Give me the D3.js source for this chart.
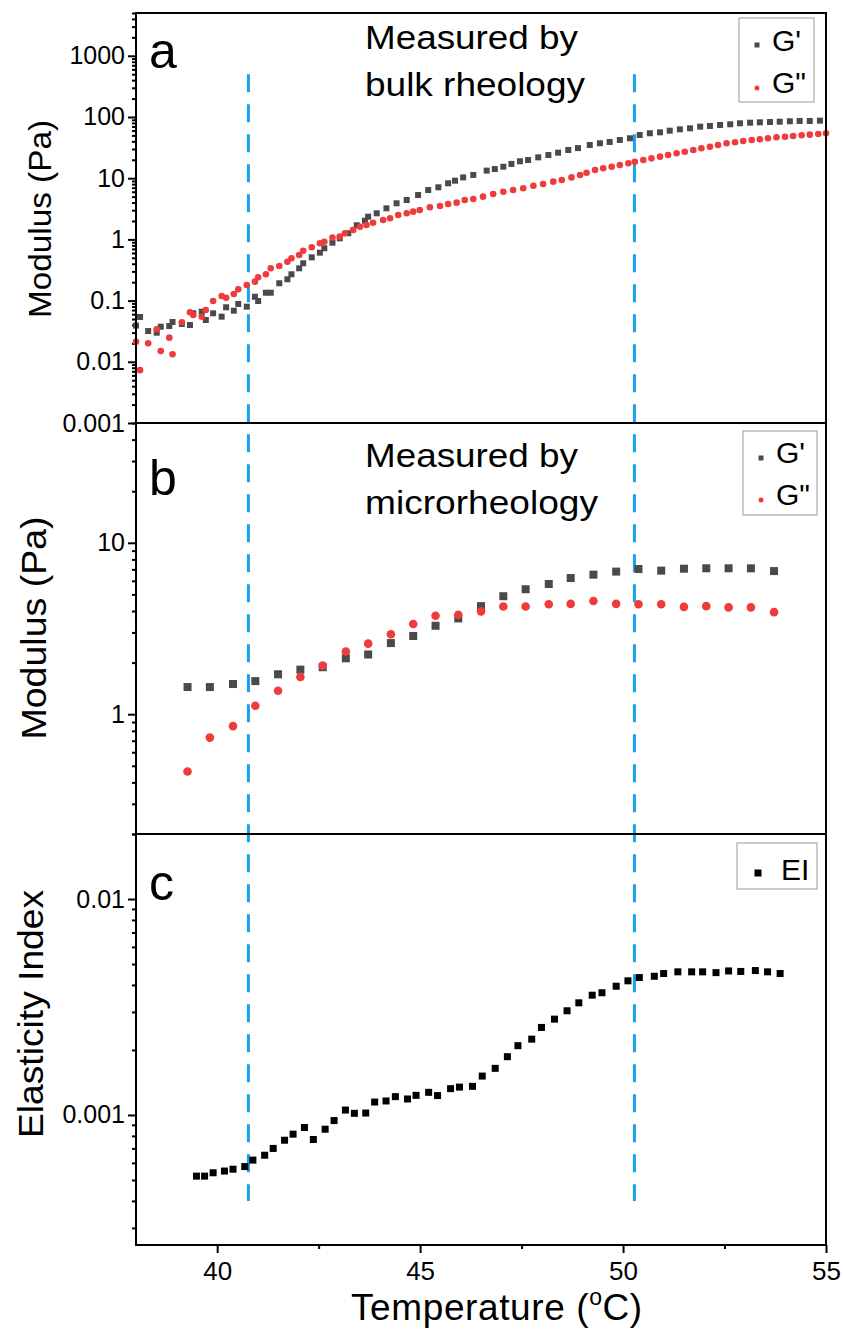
<!DOCTYPE html>
<html><head><meta charset="utf-8">
<script src="https://cdnjs.cloudflare.com/ajax/libs/d3/7.8.5/d3.min.js"></script>
<style>body{margin:0;background:#fff} text{font-family:"Liberation Sans",Arial,sans-serif;fill:#000}</style>
</head><body><svg id="chart" width="844" height="1333"></svg>
<script>
// ---------- DATA ----------
// Panel a: bulk rheology
const bulkGpTemp = [38.00,38.10,38.30,38.51,38.61,38.82,38.90,39.13,39.33,39.41,39.62,39.72,39.90,40.11,40.22,40.41,40.52,40.73,40.93,41.01,41.20,41.32,41.53,41.73,41.83,42.02,42.12,42.33,42.53,42.64,42.84,43.02,43.23,43.44,43.64,43.72,43.93,44.17,44.42,44.67,44.95,45.20,45.45,45.69,45.86,46.06,46.31,46.64,46.84,47.05,47.25,47.46,47.66,47.91,48.16,48.40,48.65,48.89,49.18,49.43,49.67,49.92,50.17,50.41,50.66,50.91,51.15,51.40,51.65,51.90,52.14,52.39,52.64,52.88,53.13,53.37,53.62,53.86,54.11,54.35,54.60,54.85];
const bulkGp = [0.039,0.054,0.0318,0.0299,0.0374,0.0384,0.0447,0.0415,0.0399,0.062,0.0659,0.0482,0.062,0.0546,0.0778,0.0684,0.088,0.0796,0.1156,0.0984,0.1345,0.1345,0.192,0.223,0.269,0.337,0.407,0.509,0.607,0.716,0.883,1.04,1.26,1.70,2.02,2.35,2.67,3.22,3.89,4.40,5.31,6.41,7.10,8.26,9.10,10.3,11.3,13.3,14.1,15.4,17.1,18.9,19.8,21.9,23.9,26.1,28.9,31.0,34.9,37.2,39.1,42.1,44.9,50.8,54.2,56.2,59.7,62.9,65.3,69.5,71.3,74.0,76.0,78.9,80.7,81.8,82.8,83.7,85.1,86.1,86.1,87.1];
const bulkGppTemp = [38.00,38.10,38.30,38.51,38.61,38.82,38.90,39.13,39.33,39.41,39.62,39.72,39.90,40.11,40.22,40.41,40.52,40.73,40.93,41.01,41.20,41.32,41.53,41.73,41.83,42.02,42.12,42.33,42.53,42.64,42.84,43.02,43.15,43.35,43.52,43.68,43.84,44.09,44.26,44.46,44.67,44.83,44.99,45.24,45.49,45.69,45.90,46.10,46.31,46.55,46.80,47.05,47.29,47.54,47.79,48.03,48.28,48.49,48.73,48.94,49.10,49.31,49.51,49.72,49.92,50.13,50.29,50.50,50.70,50.91,51.11,51.32,51.52,51.73,51.93,52.14,52.34,52.55,52.76,52.96,53.17,53.37,53.57,53.78,53.99,54.19,54.40,54.60,54.81,55.00];
const bulkGpp = [0.0213,0.0073,0.0200,0.0340,0.0150,0.0248,0.0133,0.0442,0.0644,0.0582,0.0546,0.0701,0.0984,0.119,0.111,0.128,0.153,0.180,0.204,0.240,0.269,0.337,0.367,0.432,0.491,0.556,0.653,0.742,0.863,0.917,1.07,1.11,1.26,1.43,1.61,1.72,1.87,2.07,2.21,2.50,2.67,2.84,3.02,3.35,3.52,3.79,3.98,4.40,4.57,4.99,5.52,6.02,6.41,6.84,7.54,8.04,8.77,9.35,10.3,11.3,12.3,13.6,14.5,15.4,16.4,17.5,18.6,19.8,21.1,22.5,23.9,25.5,27.1,28.9,30.8,32.7,34.9,37.2,38.6,40.6,42.1,43.2,44.9,46.6,47.6,48.9,50.2,51.4,52.7,54.2];
// Panel b: microrheology
const microTemp = [39.27,39.82,40.39,40.94,41.50,42.05,42.60,43.17,43.72,44.28,44.83,45.38,45.94,46.50,47.05,47.60,48.17,48.71,49.27,49.83,50.38,50.94,51.50,52.05,52.60,53.15,53.72];
const microGp = [1.44,1.44,1.50,1.56,1.71,1.82,1.88,2.12,2.23,2.60,2.86,3.28,3.62,4.27,4.88,5.36,5.75,6.23,6.52,6.79,7.03,6.88,7.06,7.10,7.10,7.10,6.84];
const microGpp = [0.463,0.730,0.852,1.12,1.37,1.65,1.92,2.32,2.58,2.93,3.36,3.75,3.80,3.98,4.25,4.25,4.38,4.40,4.58,4.40,4.38,4.38,4.23,4.27,4.20,4.20,3.94];
// Panel c: elasticity index
const eiTemp = [39.49,39.69,39.90,40.18,40.39,40.68,40.88,41.17,41.38,41.66,41.87,42.15,42.37,42.66,42.88,43.16,43.38,43.66,43.88,44.16,44.39,44.69,44.90,45.21,45.43,45.75,45.97,46.29,46.53,46.85,47.15,47.41,47.75,47.99,48.31,48.62,48.91,49.24,49.48,49.83,50.12,50.40,50.77,51.00,51.35,51.69,51.96,52.29,52.60,52.90,53.26,53.56,53.87];
const eiValues = [0.000521,0.000521,0.000540,0.000550,0.000561,0.000577,0.000618,0.000651,0.000700,0.000764,0.000815,0.000875,0.000770,0.000859,0.000942,0.001054,0.001018,0.001021,0.001148,0.001161,0.001216,0.001186,0.001233,0.001273,0.001230,0.001324,0.001346,0.001357,0.001514,0.001644,0.001862,0.002094,0.002245,0.002543,0.002778,0.003037,0.003306,0.003586,0.003681,0.003946,0.004180,0.004328,0.004388,0.004518,0.004600,0.004600,0.004600,0.004562,0.004645,0.004620,0.004664,0.004600,0.004518];
// Dashed transition markers
const markerTemps = [40.77, 50.28];
// Tick values and labels
const xTicks = [40,45,50,55];
const xTickLabels = ["40","45","50","55"];
const xMinorTicks = [42.5,47.5,52.5];
const yTicksA = [0.001,0.01,0.1,1,10,100,1000];
const yTickLabelsA = ["0.001","0.01","0.1","1","10","100","1000"];
const yTicksB = [1,10];
const yTickLabelsB = ["1","10"];
const yTicksC = [0.001,0.01];
const yTickLabelsC = ["0.001","0.01"];

// ---------- LAYOUT ----------
const svg = d3.select("#chart");
const L = 136, R = 826;
const panels = {a:[13,423], b:[423,834], c:[834,1245]};
const x = d3.scaleLinear().domain([38,55]).range([L,R]);
const ya = d3.scaleLog().domain([0.001,5000]).range([panels.a[1],panels.a[0]]);
const yb = d3.scaleLog().domain([0.2,50]).range([panels.b[1],panels.b[0]]);
const yc = d3.scaleLog().domain([0.00025,0.02]).range([panels.c[1],panels.c[0]]);
const COL_GP = "#4a4a4a", COL_GPP = "#ef3b3b", COL_DASH = "#17a3ec";
const FONT = '"Liberation Sans", Arial, sans-serif';

function minorTicks(scale){
  const [d0,d1] = scale.domain(); const out=[];
  for(let e=Math.floor(Math.log10(d0)); e<=Math.ceil(Math.log10(d1)); e++){
    for(let m=1;m<=9;m++){ const v=m*Math.pow(10,e); if(m!==1 && v>=d0*0.999 && v<=d1*1.001) out.push(v); }
  }
  return out;
}
function leftAxis(scale, ticks, labels){
  const g = svg.append("g").attr("transform",`translate(${L},0)`);
  g.call(d3.axisLeft(scale).tickValues(minorTicks(scale)).tickSize(4).tickFormat(""));
  const g2 = svg.append("g").attr("transform",`translate(${L},0)`);
  g2.call(d3.axisLeft(scale).tickValues(ticks).tickSize(8).tickPadding(3).tickFormat((d,i)=>labels[i]));
  [g,g2].forEach(gg=>{
    gg.select(".domain").remove();
    gg.selectAll(".tick line").attr("stroke","#000").attr("stroke-width",2);
    gg.selectAll(".tick text").attr("font-size",25).attr("font-family",FONT).attr("fill","#000");
  });
}
leftAxis(ya, yTicksA, yTickLabelsA);
leftAxis(yb, yTicksB, yTickLabelsB);
leftAxis(yc, yTicksC, yTickLabelsC);

// bottom axis
const gx = svg.append("g").attr("transform",`translate(0,${panels.c[1]})`);
gx.call(d3.axisBottom(x).tickValues(xMinorTicks).tickSize(4).tickFormat(""));
const gx2 = svg.append("g").attr("transform",`translate(0,${panels.c[1]})`);
gx2.call(d3.axisBottom(x).tickValues(xTicks).tickSize(8).tickPadding(9).tickFormat((d,i)=>xTickLabels[i]));
[gx,gx2].forEach(gg=>{
  gg.select(".domain").remove();
  gg.selectAll(".tick line").attr("stroke","#000").attr("stroke-width",2);
  gg.selectAll(".tick text").attr("font-size",26).attr("font-family",FONT).attr("fill","#000");
});

// dashed lines
svg.selectAll("line.mark").data(markerTemps).enter().append("line")
  .attr("x1",d=>x(d)).attr("x2",d=>x(d))
  .attr("y1",ya(500)).attr("y2",yc(0.0004))
  .attr("stroke",COL_DASH).attr("stroke-width",3).attr("stroke-dasharray","18,12");

// points
function squares(data, xs, ys, size, color){
  svg.append("g").selectAll("rect").data(data).enter().append("rect")
    .attr("x",d=>xs(d[0])-size/2).attr("y",d=>ys(d[1])-size/2)
    .attr("width",size).attr("height",size).attr("fill",color);
}
function circles(data, xs, ys, r, color){
  svg.append("g").selectAll("circle").data(data).enter().append("circle")
    .attr("cx",d=>xs(d[0])).attr("cy",d=>ys(d[1])).attr("r",r).attr("fill",color);
}
squares(d3.zip(bulkGpTemp,bulkGp), x, ya, 6, COL_GP);
circles(d3.zip(bulkGppTemp,bulkGpp), x, ya, 3.3, COL_GPP);
squares(d3.zip(microTemp,microGp), x, yb, 8, COL_GP);
circles(d3.zip(microTemp,microGpp), x, yb, 4.3, COL_GPP);
squares(d3.zip(eiTemp,eiValues), x, yc, 7, "#000");

// frames
Object.values(panels).forEach(([t,b])=>{
  svg.append("rect").attr("x",L).attr("y",t).attr("width",R-L).attr("height",b-t)
    .attr("fill","none").attr("stroke","#000").attr("stroke-width",2);
});

// panel letters
[["a",panels.a[0]+55],["b",panels.b[0]+72],["c",panels.c[0]+66]].forEach(([t,y])=>{
  svg.append("text").attr("x",149).attr("y",y).attr("font-size",50).attr("font-family",FONT).text(t);
});

// annotations
function note(lines, y0){
  lines.forEach((l,i)=>{
    svg.append("text").attr("x",365).attr("y",y0+i*47).attr("font-size",33).attr("font-family",FONT)
      .attr("textLength",l[1]).attr("lengthAdjust","spacingAndGlyphs").text(l[0]);
  });
}
note([["Measured by",213],["bulk rheology",220]], 49);
note([["Measured by",213],["microrheology",233]], 467);

// legends
function legend(x0,y0,w,h,items){
  svg.append("rect").attr("x",x0).attr("y",y0).attr("width",w).attr("height",h)
    .attr("fill","#fff").attr("stroke","#999").attr("stroke-width",1);
  items.forEach(it=>{
    if(it.shape==="sq") svg.append("rect").attr("x",it.mx-it.s/2).attr("y",it.my-it.s/2).attr("width",it.s).attr("height",it.s).attr("fill",it.c);
    else svg.append("circle").attr("cx",it.mx).attr("cy",it.my).attr("r",it.s/2).attr("fill",it.c);
    svg.append("text").attr("x",it.tx).attr("y",it.ty).attr("font-size",it.fs).attr("font-family",FONT).text(it.label);
  });
}
legend(739,18,75,84,[
  {shape:"sq",mx:757,my:45,s:5,c:COL_GP,tx:772,ty:51,fs:30,label:"G'"},
  {shape:"ci",mx:757,my:88,s:5,c:COL_GPP,tx:772,ty:93,fs:30,label:'G"'}]);
legend(743,431,74,84,[
  {shape:"sq",mx:761,my:458,s:5,c:COL_GP,tx:776,ty:463,fs:30,label:"G'"},
  {shape:"ci",mx:761,my:500,s:5,c:COL_GPP,tx:776,ty:505,fs:30,label:'G"'}]);
legend(737,843,80,46,[
  {shape:"sq",mx:758,my:873,s:7,c:"#000",tx:781,ty:880,fs:30,label:"EI"}]);

// axis titles
function ytitle(label, cx, cy, fs, len){
  svg.append("text").attr("transform",`translate(${cx},${cy}) rotate(-90)`).attr("text-anchor","middle")
    .attr("font-size",fs).attr("font-family",FONT).attr("textLength",len).attr("lengthAdjust","spacingAndGlyphs").text(label);
}
ytitle("Modulus (Pa)", 51, 219, 32, 198);
ytitle("Modulus (Pa)", 46, 628, 35, 223);
ytitle("Elasticity Index", 43, 1014, 35, 248);

const xt = svg.append("text").attr("x",351).attr("y",1320).attr("font-size",37).attr("letter-spacing",0.6).attr("font-family",FONT);
xt.append("tspan").text("Temperature (");
xt.append("tspan").attr("font-size",23).attr("dy",-15).text("o");
xt.append("tspan").attr("dy",15).text("C)");
</script></body></html>
